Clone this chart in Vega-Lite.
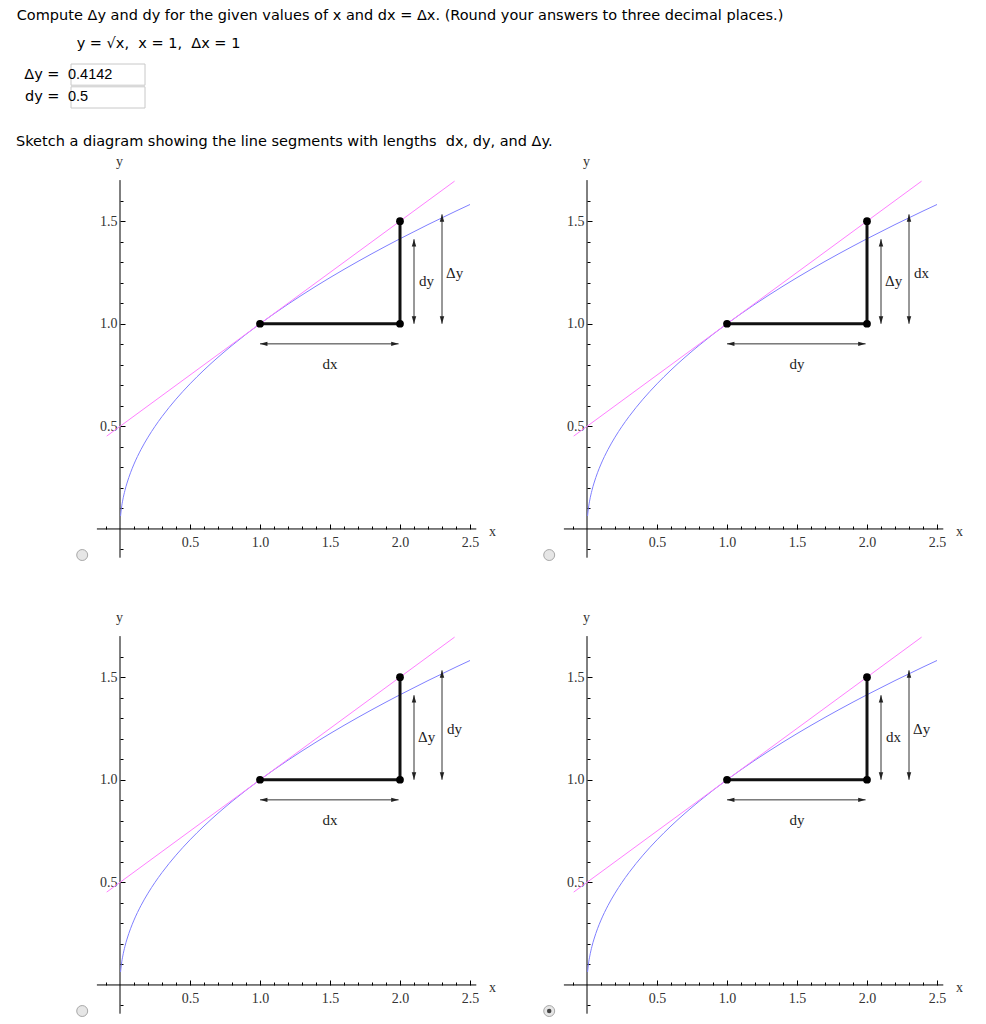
{
  "$schema": "https://vega.github.io/schema/vega-lite/v6.json",
  "background": "white",
  "padding": {"left": 16, "top": 7, "right": 0, "bottom": 0},
  "config": {
    "view": {"stroke": null},
    "title": {"anchor": "start", "frame": "bounds", "font": "DejaVu Sans", "fontSize": 14.5, "fontWeight": "normal", "color": "#000", "subtitleFont": "DejaVu Sans", "subtitleFontSize": 14.5, "subtitleColor": "#000"}
  },
  "datasets": {
    "answers": [{"q": "Δy", "a": "0.4142"}, {"q": "dy", "a": "0.5"}],
    "axislines": [{"x": -0.165, "y": 0, "x2": 2.545, "y2": 0}, {"x": 0, "y": -0.14, "x2": 0, "y2": 1.7}],
    "curve": [
      {"x": 0.004, "y": 0.0632}, {"x": 0.01, "y": 0.1}, {"x": 0.02, "y": 0.1414}, {"x": 0.035, "y": 0.1871},
      {"x": 0.05, "y": 0.2236}, {"x": 0.075, "y": 0.2739}, {"x": 0.1, "y": 0.3162}, {"x": 0.15, "y": 0.3873},
      {"x": 0.2, "y": 0.4472}, {"x": 0.25, "y": 0.5}, {"x": 0.3, "y": 0.5477}, {"x": 0.4, "y": 0.6325},
      {"x": 0.5, "y": 0.7071}, {"x": 0.6, "y": 0.7746}, {"x": 0.7, "y": 0.8367}, {"x": 0.8, "y": 0.8944},
      {"x": 0.9, "y": 0.9487}, {"x": 1.0, "y": 1.0}, {"x": 1.2, "y": 1.0954}, {"x": 1.4, "y": 1.1832},
      {"x": 1.6, "y": 1.2649}, {"x": 1.8, "y": 1.3416}, {"x": 2.0, "y": 1.4142}, {"x": 2.2, "y": 1.4832},
      {"x": 2.4, "y": 1.5492}, {"x": 2.5, "y": 1.5811}
    ],
    "tangent": [{"x": -0.095, "y": 0.4525}, {"x": 2.39, "y": 1.695}],
    "legs": [{"x": 1, "y": 1, "x2": 2, "y2": 1}, {"x": 2, "y": 1, "x2": 2, "y2": 1.5}],
    "dots": [{"x": 1, "y": 1}, {"x": 2, "y": 1}, {"x": 2, "y": 1.5}],
    "arrows": [{"x": 1.0, "y": 0.902, "x2": 1.99, "y2": 0.902}, {"x": 2.1, "y": 1.0, "x2": 2.1, "y2": 1.412}, {"x": 2.3, "y": 1.0, "x2": 2.3, "y2": 1.533}],
    "heads": [
      {"x": 1.0, "y": 0.902, "dir": "left"}, {"x": 1.99, "y": 0.902, "dir": "right"},
      {"x": 2.1, "y": 1.412, "dir": "up"}, {"x": 2.1, "y": 1.0, "dir": "down"},
      {"x": 2.3, "y": 1.533, "dir": "up"}, {"x": 2.3, "y": 1.0, "dir": "down"}
    ],
    "labels": [
      {"panel": 1, "x": 1.5, "y": 0.805, "t": "dx"}, {"panel": 1, "x": 2.19, "y": 1.206, "t": "dy"}, {"panel": 1, "x": 2.39, "y": 1.247, "t": "Δy"},
      {"panel": 2, "x": 1.5, "y": 0.805, "t": "dy"}, {"panel": 2, "x": 2.19, "y": 1.206, "t": "Δy"}, {"panel": 2, "x": 2.39, "y": 1.247, "t": "dx"},
      {"panel": 3, "x": 1.5, "y": 0.805, "t": "dx"}, {"panel": 3, "x": 2.19, "y": 1.206, "t": "Δy"}, {"panel": 3, "x": 2.39, "y": 1.247, "t": "dy"},
      {"panel": 4, "x": 1.5, "y": 0.805, "t": "dy"}, {"panel": 4, "x": 2.19, "y": 1.206, "t": "dx"}, {"panel": 4, "x": 2.39, "y": 1.247, "t": "Δy"}
    ],
    "radio": [
      {"panel": 1, "x": -0.27, "y": -0.127, "selected": false},
      {"panel": 2, "x": -0.27, "y": -0.127, "selected": false},
      {"panel": 3, "x": -0.27, "y": -0.127, "selected": false},
      {"panel": 4, "x": -0.27, "y": -0.127, "selected": true}
    ]
  },
  "columns": 1,
  "align": "none",
  "spacing": 24,
  "concat": [
    {
      "title": {"text": "Compute Δy and dy for the given values of x and dx = Δx. (Round your answers to three decimal places.)", "subtitle": "\u200b\u00a0\u00a0\u00a0\u00a0\u00a0\u00a0\u00a0\u00a0\u00a0\u00a0\u00a0\u00a0\u00a0y = √x,\u00a0 x = 1,\u00a0 Δx = 1", "subtitlePadding": 14, "offset": 12, "dx": -7},
      "data": {"name": "answers"},
      "width": 80,
      "height": 44,
      "encoding": {
        "y": {"field": "q", "type": "nominal", "sort": null, "scale": {"paddingInner": 0.07, "paddingOuter": 0},
          "axis": {"title": null, "domain": false, "ticks": false, "offset": 6, "labelExpr": "datum.value + ' ='", "labelPadding": 6, "labelFont": "DejaVu Sans", "labelFontSize": 14.5, "labelColor": "#000"}}
      },
      "layer": [
        {"mark": {"type": "rect", "fill": "white", "stroke": "#c8c8c8", "strokeWidth": 1, "xOffset": -6, "x2Offset": -6}},
        {"mark": {"type": "text", "align": "left", "dx": -43, "font": "Liberation Sans", "fontSize": 14.5, "color": "#000"}, "encoding": {"text": {"field": "a"}}}
      ]
    },
    {
      "title": {"text": "Sketch a diagram showing the line segments with lengths\u00a0 dx, dy, and Δy.", "dx": -55, "offset": 5},
      "columns": 2,
      "spacing": {"row": 62, "column": 47},
      "bounds": "flush",
      "concat": [
        {
          "width": 420, "height": 394,
          "encoding": {
            "x": {"field": "x", "type": "quantitative", "scale": {"domain": [-0.35, 2.65], "nice": false, "zero": false},
              "axis": {"orient": "bottom", "offset": -41, "domain": false, "grid": false, "values": [-0.1, 0.1, 0.2, 0.3, 0.4, 0.5, 0.6, 0.7, 0.8, 0.9, 1, 1.1, 1.2, 1.3, 1.4, 1.5, 1.6, 1.7, 1.8, 1.9, 2, 2.1, 2.2, 2.3, 2.4, 2.5],
                "tickSize": {"condition": {"test": "abs(datum.value*2-round(datum.value*2))<0.001", "value": -5}, "value": -3}, "tickColor": "#000", "tickWidth": 1,
                "labelExpr": "datum.value > 0.01 && abs(datum.value*2-round(datum.value*2))<0.001 ? format(datum.value, '.1f') : ''",
                "labelPadding": 11, "labelBaseline": "top", "labelFont": "Liberation Serif", "labelFontSize": 14, "labelColor": "#333", "labelOverlap": false, "labelFlush": false,
                "title": "x", "titleAngle": 0, "titleX": 421, "titleY": 6, "titleAlign": "center", "titleBaseline": "alphabetic", "titleFont": "Liberation Serif", "titleFontSize": 14, "titleFontWeight": "normal", "titleColor": "#333"}},
            "y": {"field": "y", "type": "quantitative", "scale": {"domain": [-0.2, 1.72], "nice": false, "zero": false},
              "axis": {"orient": "left", "offset": -49, "domain": false, "grid": false, "values": [-0.1, 0.1, 0.2, 0.3, 0.4, 0.5, 0.6, 0.7, 0.8, 0.9, 1, 1.1, 1.2, 1.3, 1.4, 1.5, 1.6],
                "tickSize": {"condition": {"test": "abs(datum.value*2-round(datum.value*2))<0.001", "value": -5}, "value": -3}, "tickColor": "#000", "tickWidth": 1,
                "labelExpr": "datum.value > 0.01 && abs(datum.value*2-round(datum.value*2))<0.001 ? format(datum.value, '.1f') : ''",
                "labelPadding": 8, "labelBaseline": "middle", "labelFont": "Liberation Serif", "labelFontSize": 14, "labelColor": "#333", "labelOverlap": false, "labelFlush": false,
                "title": "y", "titleAngle": 0, "titleX": -1, "titleY": -11, "titleAlign": "center", "titleBaseline": "alphabetic", "titleFont": "Liberation Serif", "titleFontSize": 14, "titleFontWeight": "normal", "titleColor": "#333"}}
          },
          "layer": [
            {"data": {"name": "axislines"}, "mark": {"type": "rule", "color": "#000", "strokeWidth": 1}, "encoding": {"x2": {"field": "x2"}, "y2": {"field": "y2"}}},
            {"data": {"name": "curve"}, "mark": {"type": "line", "color": "#7f7fff", "strokeWidth": 1, "interpolate": "monotone"}},
            {"data": {"name": "tangent"}, "mark": {"type": "line", "color": "#ff7fff", "strokeWidth": 1}},
            {"data": {"name": "legs"}, "mark": {"type": "rule", "color": "#111", "strokeWidth": 3}, "encoding": {"x2": {"field": "x2"}, "y2": {"field": "y2"}}},
            {"data": {"name": "dots"}, "mark": {"type": "point", "shape": "circle", "filled": true, "color": "#000", "size": 60, "opacity": 1}},
            {"data": {"name": "arrows"}, "mark": {"type": "rule", "color": "#333", "strokeWidth": 1}, "encoding": {"x2": {"field": "x2"}, "y2": {"field": "y2"}}},
            {"data": {"name": "heads"}, "mark": {"type": "point", "filled": true, "color": "#222", "size": 55, "opacity": 1},
              "encoding": {"shape": {"field": "dir", "type": "nominal", "legend": null, "scale": {"domain": ["up", "down", "left", "right"], "range": ["M0,0L0.6,2L-0.6,2Z", "M0,0L0.6,-2L-0.6,-2Z", "M0,0L2,0.6L2,-0.6Z", "M0,0L-2,0.6L-2,-0.6Z"]}}}},
            {"data": {"name": "labels"}, "transform": [{"filter": "datum.panel == 1"}], "mark": {"type": "text", "font": "Liberation Serif", "fontSize": 15, "color": "#222"}, "encoding": {"text": {"field": "t"}}},
            {"data": {"name": "radio"}, "transform": [{"filter": "datum.panel == 1"}], "mark": {"type": "point", "shape": "circle", "filled": true, "fill": "#e6e6e6", "stroke": "#a8a8a8", "strokeWidth": 1, "size": 120, "opacity": 1}},
            {"data": {"name": "radio"}, "transform": [{"filter": "datum.panel == 1 && datum.selected"}], "mark": {"type": "point", "shape": "circle", "filled": true, "color": "#444", "size": 20, "opacity": 1}}
          ]
        },
        {
          "width": 420, "height": 394,
          "encoding": {
            "x": {"field": "x", "type": "quantitative", "scale": {"domain": [-0.35, 2.65], "nice": false, "zero": false},
              "axis": {"orient": "bottom", "offset": -41, "domain": false, "grid": false, "values": [-0.1, 0.1, 0.2, 0.3, 0.4, 0.5, 0.6, 0.7, 0.8, 0.9, 1, 1.1, 1.2, 1.3, 1.4, 1.5, 1.6, 1.7, 1.8, 1.9, 2, 2.1, 2.2, 2.3, 2.4, 2.5],
                "tickSize": {"condition": {"test": "abs(datum.value*2-round(datum.value*2))<0.001", "value": -5}, "value": -3}, "tickColor": "#000", "tickWidth": 1,
                "labelExpr": "datum.value > 0.01 && abs(datum.value*2-round(datum.value*2))<0.001 ? format(datum.value, '.1f') : ''",
                "labelPadding": 11, "labelBaseline": "top", "labelFont": "Liberation Serif", "labelFontSize": 14, "labelColor": "#333", "labelOverlap": false, "labelFlush": false,
                "title": "x", "titleAngle": 0, "titleX": 421, "titleY": 6, "titleAlign": "center", "titleBaseline": "alphabetic", "titleFont": "Liberation Serif", "titleFontSize": 14, "titleFontWeight": "normal", "titleColor": "#333"}},
            "y": {"field": "y", "type": "quantitative", "scale": {"domain": [-0.2, 1.72], "nice": false, "zero": false},
              "axis": {"orient": "left", "offset": -49, "domain": false, "grid": false, "values": [-0.1, 0.1, 0.2, 0.3, 0.4, 0.5, 0.6, 0.7, 0.8, 0.9, 1, 1.1, 1.2, 1.3, 1.4, 1.5, 1.6],
                "tickSize": {"condition": {"test": "abs(datum.value*2-round(datum.value*2))<0.001", "value": -5}, "value": -3}, "tickColor": "#000", "tickWidth": 1,
                "labelExpr": "datum.value > 0.01 && abs(datum.value*2-round(datum.value*2))<0.001 ? format(datum.value, '.1f') : ''",
                "labelPadding": 8, "labelBaseline": "middle", "labelFont": "Liberation Serif", "labelFontSize": 14, "labelColor": "#333", "labelOverlap": false, "labelFlush": false,
                "title": "y", "titleAngle": 0, "titleX": -1, "titleY": -11, "titleAlign": "center", "titleBaseline": "alphabetic", "titleFont": "Liberation Serif", "titleFontSize": 14, "titleFontWeight": "normal", "titleColor": "#333"}}
          },
          "layer": [
            {"data": {"name": "axislines"}, "mark": {"type": "rule", "color": "#000", "strokeWidth": 1}, "encoding": {"x2": {"field": "x2"}, "y2": {"field": "y2"}}},
            {"data": {"name": "curve"}, "mark": {"type": "line", "color": "#7f7fff", "strokeWidth": 1, "interpolate": "monotone"}},
            {"data": {"name": "tangent"}, "mark": {"type": "line", "color": "#ff7fff", "strokeWidth": 1}},
            {"data": {"name": "legs"}, "mark": {"type": "rule", "color": "#111", "strokeWidth": 3}, "encoding": {"x2": {"field": "x2"}, "y2": {"field": "y2"}}},
            {"data": {"name": "dots"}, "mark": {"type": "point", "shape": "circle", "filled": true, "color": "#000", "size": 60, "opacity": 1}},
            {"data": {"name": "arrows"}, "mark": {"type": "rule", "color": "#333", "strokeWidth": 1}, "encoding": {"x2": {"field": "x2"}, "y2": {"field": "y2"}}},
            {"data": {"name": "heads"}, "mark": {"type": "point", "filled": true, "color": "#222", "size": 55, "opacity": 1},
              "encoding": {"shape": {"field": "dir", "type": "nominal", "legend": null, "scale": {"domain": ["up", "down", "left", "right"], "range": ["M0,0L0.6,2L-0.6,2Z", "M0,0L0.6,-2L-0.6,-2Z", "M0,0L2,0.6L2,-0.6Z", "M0,0L-2,0.6L-2,-0.6Z"]}}}},
            {"data": {"name": "labels"}, "transform": [{"filter": "datum.panel == 2"}], "mark": {"type": "text", "font": "Liberation Serif", "fontSize": 15, "color": "#222"}, "encoding": {"text": {"field": "t"}}},
            {"data": {"name": "radio"}, "transform": [{"filter": "datum.panel == 2"}], "mark": {"type": "point", "shape": "circle", "filled": true, "fill": "#e6e6e6", "stroke": "#a8a8a8", "strokeWidth": 1, "size": 120, "opacity": 1}},
            {"data": {"name": "radio"}, "transform": [{"filter": "datum.panel == 2 && datum.selected"}], "mark": {"type": "point", "shape": "circle", "filled": true, "color": "#444", "size": 20, "opacity": 1}}
          ]
        },
        {
          "width": 420, "height": 394,
          "encoding": {
            "x": {"field": "x", "type": "quantitative", "scale": {"domain": [-0.35, 2.65], "nice": false, "zero": false},
              "axis": {"orient": "bottom", "offset": -41, "domain": false, "grid": false, "values": [-0.1, 0.1, 0.2, 0.3, 0.4, 0.5, 0.6, 0.7, 0.8, 0.9, 1, 1.1, 1.2, 1.3, 1.4, 1.5, 1.6, 1.7, 1.8, 1.9, 2, 2.1, 2.2, 2.3, 2.4, 2.5],
                "tickSize": {"condition": {"test": "abs(datum.value*2-round(datum.value*2))<0.001", "value": -5}, "value": -3}, "tickColor": "#000", "tickWidth": 1,
                "labelExpr": "datum.value > 0.01 && abs(datum.value*2-round(datum.value*2))<0.001 ? format(datum.value, '.1f') : ''",
                "labelPadding": 11, "labelBaseline": "top", "labelFont": "Liberation Serif", "labelFontSize": 14, "labelColor": "#333", "labelOverlap": false, "labelFlush": false,
                "title": "x", "titleAngle": 0, "titleX": 421, "titleY": 6, "titleAlign": "center", "titleBaseline": "alphabetic", "titleFont": "Liberation Serif", "titleFontSize": 14, "titleFontWeight": "normal", "titleColor": "#333"}},
            "y": {"field": "y", "type": "quantitative", "scale": {"domain": [-0.2, 1.72], "nice": false, "zero": false},
              "axis": {"orient": "left", "offset": -49, "domain": false, "grid": false, "values": [-0.1, 0.1, 0.2, 0.3, 0.4, 0.5, 0.6, 0.7, 0.8, 0.9, 1, 1.1, 1.2, 1.3, 1.4, 1.5, 1.6],
                "tickSize": {"condition": {"test": "abs(datum.value*2-round(datum.value*2))<0.001", "value": -5}, "value": -3}, "tickColor": "#000", "tickWidth": 1,
                "labelExpr": "datum.value > 0.01 && abs(datum.value*2-round(datum.value*2))<0.001 ? format(datum.value, '.1f') : ''",
                "labelPadding": 8, "labelBaseline": "middle", "labelFont": "Liberation Serif", "labelFontSize": 14, "labelColor": "#333", "labelOverlap": false, "labelFlush": false,
                "title": "y", "titleAngle": 0, "titleX": -1, "titleY": -11, "titleAlign": "center", "titleBaseline": "alphabetic", "titleFont": "Liberation Serif", "titleFontSize": 14, "titleFontWeight": "normal", "titleColor": "#333"}}
          },
          "layer": [
            {"data": {"name": "axislines"}, "mark": {"type": "rule", "color": "#000", "strokeWidth": 1}, "encoding": {"x2": {"field": "x2"}, "y2": {"field": "y2"}}},
            {"data": {"name": "curve"}, "mark": {"type": "line", "color": "#7f7fff", "strokeWidth": 1, "interpolate": "monotone"}},
            {"data": {"name": "tangent"}, "mark": {"type": "line", "color": "#ff7fff", "strokeWidth": 1}},
            {"data": {"name": "legs"}, "mark": {"type": "rule", "color": "#111", "strokeWidth": 3}, "encoding": {"x2": {"field": "x2"}, "y2": {"field": "y2"}}},
            {"data": {"name": "dots"}, "mark": {"type": "point", "shape": "circle", "filled": true, "color": "#000", "size": 60, "opacity": 1}},
            {"data": {"name": "arrows"}, "mark": {"type": "rule", "color": "#333", "strokeWidth": 1}, "encoding": {"x2": {"field": "x2"}, "y2": {"field": "y2"}}},
            {"data": {"name": "heads"}, "mark": {"type": "point", "filled": true, "color": "#222", "size": 55, "opacity": 1},
              "encoding": {"shape": {"field": "dir", "type": "nominal", "legend": null, "scale": {"domain": ["up", "down", "left", "right"], "range": ["M0,0L0.6,2L-0.6,2Z", "M0,0L0.6,-2L-0.6,-2Z", "M0,0L2,0.6L2,-0.6Z", "M0,0L-2,0.6L-2,-0.6Z"]}}}},
            {"data": {"name": "labels"}, "transform": [{"filter": "datum.panel == 3"}], "mark": {"type": "text", "font": "Liberation Serif", "fontSize": 15, "color": "#222"}, "encoding": {"text": {"field": "t"}}},
            {"data": {"name": "radio"}, "transform": [{"filter": "datum.panel == 3"}], "mark": {"type": "point", "shape": "circle", "filled": true, "fill": "#e6e6e6", "stroke": "#a8a8a8", "strokeWidth": 1, "size": 120, "opacity": 1}},
            {"data": {"name": "radio"}, "transform": [{"filter": "datum.panel == 3 && datum.selected"}], "mark": {"type": "point", "shape": "circle", "filled": true, "color": "#444", "size": 20, "opacity": 1}}
          ]
        },
        {
          "width": 420, "height": 394,
          "encoding": {
            "x": {"field": "x", "type": "quantitative", "scale": {"domain": [-0.35, 2.65], "nice": false, "zero": false},
              "axis": {"orient": "bottom", "offset": -41, "domain": false, "grid": false, "values": [-0.1, 0.1, 0.2, 0.3, 0.4, 0.5, 0.6, 0.7, 0.8, 0.9, 1, 1.1, 1.2, 1.3, 1.4, 1.5, 1.6, 1.7, 1.8, 1.9, 2, 2.1, 2.2, 2.3, 2.4, 2.5],
                "tickSize": {"condition": {"test": "abs(datum.value*2-round(datum.value*2))<0.001", "value": -5}, "value": -3}, "tickColor": "#000", "tickWidth": 1,
                "labelExpr": "datum.value > 0.01 && abs(datum.value*2-round(datum.value*2))<0.001 ? format(datum.value, '.1f') : ''",
                "labelPadding": 11, "labelBaseline": "top", "labelFont": "Liberation Serif", "labelFontSize": 14, "labelColor": "#333", "labelOverlap": false, "labelFlush": false,
                "title": "x", "titleAngle": 0, "titleX": 421, "titleY": 6, "titleAlign": "center", "titleBaseline": "alphabetic", "titleFont": "Liberation Serif", "titleFontSize": 14, "titleFontWeight": "normal", "titleColor": "#333"}},
            "y": {"field": "y", "type": "quantitative", "scale": {"domain": [-0.2, 1.72], "nice": false, "zero": false},
              "axis": {"orient": "left", "offset": -49, "domain": false, "grid": false, "values": [-0.1, 0.1, 0.2, 0.3, 0.4, 0.5, 0.6, 0.7, 0.8, 0.9, 1, 1.1, 1.2, 1.3, 1.4, 1.5, 1.6],
                "tickSize": {"condition": {"test": "abs(datum.value*2-round(datum.value*2))<0.001", "value": -5}, "value": -3}, "tickColor": "#000", "tickWidth": 1,
                "labelExpr": "datum.value > 0.01 && abs(datum.value*2-round(datum.value*2))<0.001 ? format(datum.value, '.1f') : ''",
                "labelPadding": 8, "labelBaseline": "middle", "labelFont": "Liberation Serif", "labelFontSize": 14, "labelColor": "#333", "labelOverlap": false, "labelFlush": false,
                "title": "y", "titleAngle": 0, "titleX": -1, "titleY": -11, "titleAlign": "center", "titleBaseline": "alphabetic", "titleFont": "Liberation Serif", "titleFontSize": 14, "titleFontWeight": "normal", "titleColor": "#333"}}
          },
          "layer": [
            {"data": {"name": "axislines"}, "mark": {"type": "rule", "color": "#000", "strokeWidth": 1}, "encoding": {"x2": {"field": "x2"}, "y2": {"field": "y2"}}},
            {"data": {"name": "curve"}, "mark": {"type": "line", "color": "#7f7fff", "strokeWidth": 1, "interpolate": "monotone"}},
            {"data": {"name": "tangent"}, "mark": {"type": "line", "color": "#ff7fff", "strokeWidth": 1}},
            {"data": {"name": "legs"}, "mark": {"type": "rule", "color": "#111", "strokeWidth": 3}, "encoding": {"x2": {"field": "x2"}, "y2": {"field": "y2"}}},
            {"data": {"name": "dots"}, "mark": {"type": "point", "shape": "circle", "filled": true, "color": "#000", "size": 60, "opacity": 1}},
            {"data": {"name": "arrows"}, "mark": {"type": "rule", "color": "#333", "strokeWidth": 1}, "encoding": {"x2": {"field": "x2"}, "y2": {"field": "y2"}}},
            {"data": {"name": "heads"}, "mark": {"type": "point", "filled": true, "color": "#222", "size": 55, "opacity": 1},
              "encoding": {"shape": {"field": "dir", "type": "nominal", "legend": null, "scale": {"domain": ["up", "down", "left", "right"], "range": ["M0,0L0.6,2L-0.6,2Z", "M0,0L0.6,-2L-0.6,-2Z", "M0,0L2,0.6L2,-0.6Z", "M0,0L-2,0.6L-2,-0.6Z"]}}}},
            {"data": {"name": "labels"}, "transform": [{"filter": "datum.panel == 4"}], "mark": {"type": "text", "font": "Liberation Serif", "fontSize": 15, "color": "#222"}, "encoding": {"text": {"field": "t"}}},
            {"data": {"name": "radio"}, "transform": [{"filter": "datum.panel == 4"}], "mark": {"type": "point", "shape": "circle", "filled": true, "fill": "#e6e6e6", "stroke": "#a8a8a8", "strokeWidth": 1, "size": 120, "opacity": 1}},
            {"data": {"name": "radio"}, "transform": [{"filter": "datum.panel == 4 && datum.selected"}], "mark": {"type": "point", "shape": "circle", "filled": true, "color": "#444", "size": 20, "opacity": 1}}
          ]
        }
      ]
    }
  ]
}
